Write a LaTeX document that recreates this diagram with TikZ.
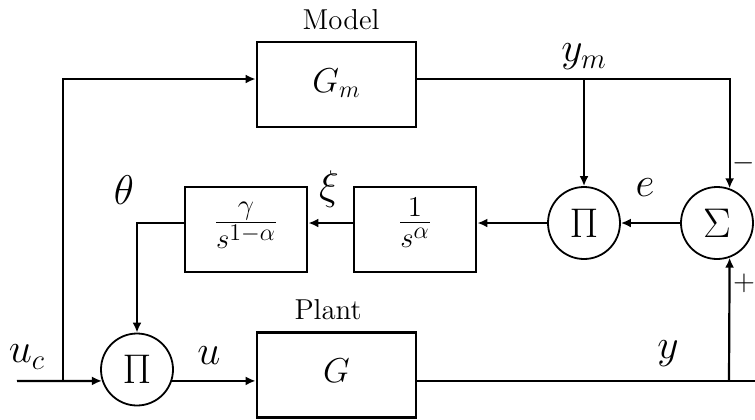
\documentclass[tikz,border=0pt]{standalone}
\usepackage{amsmath}
\usepackage{tikz}
\usetikzlibrary{arrows.meta, calc}
\tikzset{
  block/.style ={draw, line width=1.4pt, minimum width=79.5pt, minimum height=42.5pt,
                 inner sep=0pt, font=\LARGE, text depth=4pt},
  fblock/.style={block, minimum width=61pt, font=\huge, text height=15pt, text depth=11.5pt},
  junc/.style  ={draw, circle, line width=0.9pt, minimum size=36pt, inner sep=0pt, font=\huge},
  wire/.style  ={line width=1.1pt},
  flow/.style  ={wire, -{Latex[length=5pt, width=4.5pt]}},
  lbl/.style   ={font=\huge, inner sep=0pt},
  sgn/.style   ={font=\Large, inner sep=0pt},
  blocktitle/.style={font=\Large, inner sep=0pt},
}
\begin{document}
\begin{tikzpicture}[x=0.5pt, y=-0.5pt]
  \useasboundingbox (0,0) rectangle (755,419);
  % blocks
  \node[block] (gm) at (336.5,84.5) {$G_m$};
  \node[block] (g) at (336.5,375) {$G$};
  \node[fblock] (gam) at (246,229.5) {$\frac{\gamma}{s^{1-\alpha}}$};
  \node[fblock] (frac) at (415,229.5) {$\frac{1}{s^{\alpha}}$};
  \node[junc] (pb) at (137,369.5) {$\Pi$};
  \node[junc] (pt) at (584,223) {$\Pi$};
  \node[junc] (sig) at (717,223) {$\Sigma$};
  \node[blocktitle] (modellbl) at (341,20) {Model};
  \node[blocktitle] (plantlbl) at (328,310) {Plant};
  % signal names
  \node[lbl] (uclbl) at (27,357) {$u_c$};
  \node[lbl] (thetalbl) at (124,190) {$\theta$};
  \node[lbl] (xilbl) at (329,189) {$\xi$};
  \node[lbl] (elbl) at (645,188) {$e$};
  \node[lbl] (ymlbl) at (584,57) {$y_m$};
  \node[lbl] (ulbl) at (209,356) {$u$};
  \node[lbl] (ylbl) at (668,354) {$y$};
  \node[sgn] (minus) at (744,163) {$-$};
  \node[sgn] (plus) at (744,283) {$+$};
  % signals
  \coordinate (ucin) at (17,381);
  \coordinate (ucsplit) at (63,381);
  \coordinate (ymsplit) at (584,79);
  \coordinate (ysplit) at (729,381);
  \coordinate (yout) at (755,381);
  \draw[flow] (ucin) -- (pb.198.6);
  \draw[flow] (ucsplit) |- ($(gm.west)+(0,-5.5)$);
  \draw[flow] ($(gm.east)+(0,-5.5)$) -| (sig.70.5);
  \draw[flow] (ymsplit) -- (pt.north);
  \draw[flow] (sig.west) -- (pt.east);
  \draw[flow] (pt.west) -- (pt.west -| frac.east);
  \draw[flow] (pt.west -| frac.west) -- (pt.west -| gam.east);
  \draw[flow] (pt.west -| gam.west) -| (pb.north);
  \draw[flow] (pb.-18.6) -- (pb.-18.6 -| g.west);
  \draw[wire] (g.east |- yout) -- (yout);
  \draw[flow] (ysplit) -- (sig.-70.5);
\end{tikzpicture}
\end{document}
